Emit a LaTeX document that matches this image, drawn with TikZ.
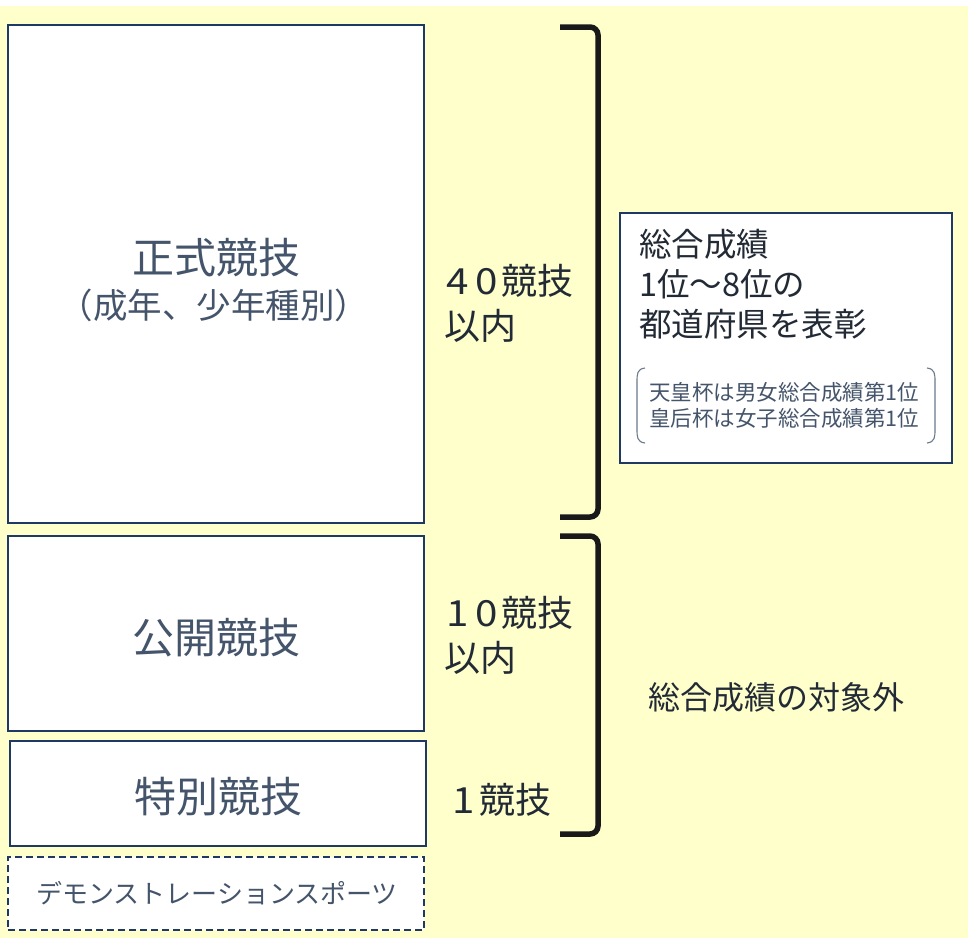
\documentclass[tikz,border=0pt]{standalone}
\usepackage{fontspec}
\newfontfamily\jp{Noto Sans CJK JP}
\definecolor{bgyellow}{HTML}{FFFFCC}
\definecolor{navy}{HTML}{1F3864}
\definecolor{boxtext}{HTML}{44546A}
\definecolor{darktext}{HTML}{222A35}
\definecolor{parcol}{HTML}{6A7A8C}
\newcommand{\widedigit}[1]{\kern2pt\scalebox{1.12}[1]{#1}\kern4.5pt}
\tikzset{
  catbox/.style={draw=navy, line width=1.6pt, fill=white, rectangle, inner sep=0pt},
  boxlabel/.style={text=boxtext, inner sep=0pt, font=\jp\fontsize{42}{50}\selectfont},
  sidelabel/.style={text=darktext, inner sep=0pt, anchor=west, align=left, font=\jp\fontsize{36}{45}\selectfont},
  bracketline/.style={draw=black!90, line width=5.5pt, rounded corners=8pt},
}
\begin{document}
\begin{tikzpicture}[x=1pt,y=-1pt]
\useasboundingbox (0,0) rectangle (968,938);
\fill[white] (0,0) rectangle (968,6);
\fill[bgyellow] (0,6) rectangle (968,938);

% category boxes
\node[catbox, minimum width=416pt, minimum height=498pt] (official) at (216,274) {};
\node[catbox, minimum width=416pt, minimum height=195pt] (open) at (216,633.5) {};
\node[catbox, minimum width=416pt, minimum height=105pt] (special) at (218,793.5) {};
\node[catbox, dashed, line width=1.8pt, dash pattern=on 7pt off 4pt, minimum width=416pt, minimum height=73pt] (demo) at (216,893.5) {};

\node[boxlabel] (officialT) at (216,258) {正式競技};
\node[boxlabel, font=\jp\fontsize{34.5}{40}\selectfont] (officialS) at (214,305) {（成年、少年種別）};
\node[boxlabel] (openT) at (216,638) {公開競技};
\node[boxlabel] (specialT) at (218,797) {特別競技};
\node[boxlabel, font=\jp\fontsize{26}{30}\selectfont] (demoT) at (217,893) {デモンストレーションスポーツ};

% side labels
\node[sidelabel] (n40) at (444,303) {\widedigit{4}\widedigit{0}競技\\以内};
\node[sidelabel] (n10) at (444,635) {\widedigit{1}\widedigit{0}競技\\以内};
\node[sidelabel] (n1) at (450,800) {\widedigit{1}競技};

% brackets
\coordinate (b1a) at (560,27);
\coordinate (b1b) at (598,27);
\coordinate (b1c) at (598,517);
\coordinate (b1d) at (560,517);
\draw[bracketline] (b1a) -- (b1b) -- (b1c) -- (b1d);
\coordinate (b2a) at (560,536);
\coordinate (b2b) at (598,536);
\coordinate (b2c) at (598,834);
\coordinate (b2d) at (560,834);
\draw[bracketline] (b2a) -- (b2b) -- (b2c) -- (b2d);

% right box
\node[catbox, minimum width=332pt, minimum height=250pt] (award) at (786,338) {};
\node[text=darktext, inner sep=0pt, anchor=north west, align=left, font=\jp\fontsize{32.5}{40}\selectfont] (awardT) at (639,229) {総合成績\\1位～8位の\\都道府県を表彰};
\node[text=boxtext, inner sep=0pt, align=left, font=\jp\fontsize{21.5}{26}\selectfont] (cupT) at (784,405) {天皇杯は男女総合成績第1位\\皇后杯は女子総合成績第1位};
\coordinate (pl1) at (645,368);
\coordinate (pl2) at (645,443);
\coordinate (pr1) at (927,368);
\coordinate (pr2) at (927,443);
\draw[parcol, line width=1.1pt] (pl1) .. controls (637,369) and (637,374) .. (637,382) -- (637,429) .. controls (637,437) and (637,442) .. (pl2);
\draw[parcol, line width=1.1pt] (pr1) .. controls (935,369) and (935,374) .. (935,382) -- (935,429) .. controls (935,437) and (935,442) .. (pr2);

\node[text=darktext, inner sep=0pt, font=\jp\fontsize{32}{38}\selectfont] (excl) at (776,697) {総合成績の対象外};
\end{tikzpicture}
\end{document}
